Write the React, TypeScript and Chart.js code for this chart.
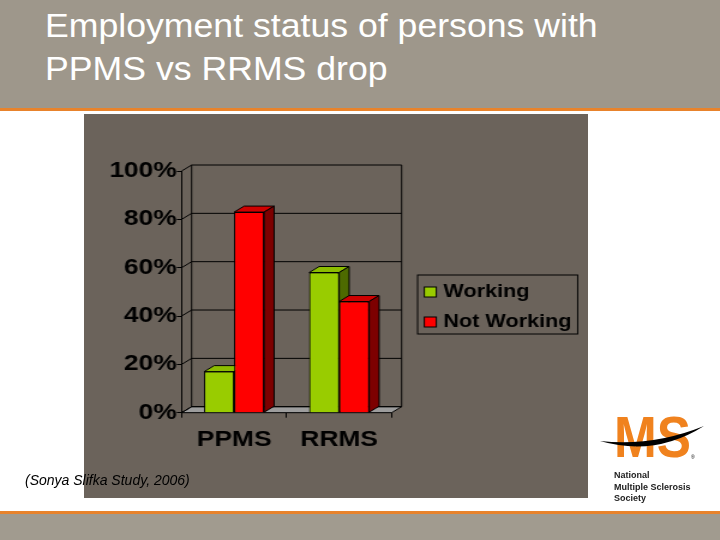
import React, { useEffect, useRef } from "react";
import { Chart, registerables } from "chart.js";

Chart.register(...registerables);

const categories = ["PPMS", "RRMS"];
const seriesLabels = ["Working", "Not Working"];
const working = [17, 58];
const notWorking = [83, 46];
const yTickValues = [0, 20, 40, 60, 80, 100];

const FONT = '"Liberation Sans", Arial, Helvetica, sans-serif';
const DX = 8.33;
const DY = 6;
const faces = [
  { front: "#99cc00", top: "#8cbd00", side: "#4d6a00" },
  { front: "#ff0000", top: "#cf0000", side: "#7d0000" },
];

const threeD = {
  id: "threeD",
  beforeDatasetsDraw(chart: any) {
    const { ctx, chartArea: ca } = chart;
    const y = chart.scales.y;
    const yb = y.getPixelForValue(0);
    const yt = y.getPixelForValue(yTickValues[yTickValues.length - 1]);
    ctx.save();
    ctx.lineWidth = 1;
    ctx.strokeStyle = "#000";
    ctx.beginPath();
    ctx.moveTo(ca.left, yb);
    ctx.lineTo(ca.left + DX, yb - DY);
    ctx.lineTo(ca.right + DX, yb - DY);
    ctx.lineTo(ca.right, yb);
    ctx.closePath();
    ctx.fillStyle = "#9d9d9d";
    ctx.fill();
    ctx.stroke();
    for (const v of yTickValues) {
      const py = y.getPixelForValue(v);
      ctx.beginPath();
      ctx.moveTo(ca.left, py);
      ctx.lineTo(ca.left + DX, py - DY);
      ctx.lineTo(ca.right + DX, py - DY);
      ctx.stroke();
    }
    ctx.beginPath();
    ctx.moveTo(ca.left + DX, yt - DY);
    ctx.lineTo(ca.left + DX, yb - DY);
    ctx.moveTo(ca.right + DX, yt - DY);
    ctx.lineTo(ca.right + DX, yb - DY);
    ctx.stroke();
    ctx.restore();
  },
  afterDatasetsDraw(chart: any) {
    const { ctx } = chart;
    const n = chart.data.labels.length;
    ctx.save();
    ctx.lineWidth = 1;
    ctx.strokeStyle = "#000";
    for (let j = 0; j < n; j++) {
      for (let i = 0; i < chart.data.datasets.length; i++) {
        const bar = chart.getDatasetMeta(i).data[j];
        const { x, y, base, width } = bar.getProps(["x", "y", "base", "width"], true);
        const l = x - width / 2;
        const r = x + width / 2;
        bar.draw(ctx);
        const c = faces[i];
        ctx.beginPath();
        ctx.moveTo(l, y);
        ctx.lineTo(l + DX, y - DY);
        ctx.lineTo(r + DX, y - DY);
        ctx.lineTo(r, y);
        ctx.closePath();
        ctx.fillStyle = c.top;
        ctx.fill();
        ctx.stroke();
        ctx.beginPath();
        ctx.moveTo(r, y);
        ctx.lineTo(r + DX, y - DY);
        ctx.lineTo(r + DX, base - DY);
        ctx.lineTo(r, base);
        ctx.closePath();
        ctx.fillStyle = c.side;
        ctx.fill();
        ctx.stroke();
      }
    }
    ctx.restore();
  },
  afterDraw(chart: any) {
    const { ctx, chartArea: ca } = chart;
    const left = ca.right + DX + 13.3;
    const top = 161;
    const w = 133.4;
    const h = 59;
    ctx.save();
    ctx.lineWidth = 1;
    ctx.strokeStyle = "#000";
    ctx.strokeRect(left, top, w, h);
    ctx.font = `bold 18px ${FONT}`;
    ctx.textBaseline = "middle";
    ctx.textAlign = "left";
    chart.data.datasets.forEach((ds: any, i: number) => {
      const cy = top + 17 + i * 30;
      ctx.fillStyle = ds.backgroundColor;
      ctx.fillRect(left + 5.6, cy - 5, 10, 10);
      ctx.strokeRect(left + 5.6, cy - 5, 10, 10);
      ctx.fillStyle = "#000";
      ctx.fillText(ds.label, left + 21.5, cy);
    });
    ctx.restore();
  },
};

function ChartBox() {
  const ref = useRef<HTMLCanvasElement | null>(null);
  useEffect(() => {
    if (!ref.current) return;
    const chart = new Chart(ref.current, {
      type: "bar",
      data: {
        labels: categories,
        datasets: [
          { label: seriesLabels[0], data: working, backgroundColor: faces[0].front, borderColor: "#000", borderWidth: 1 },
          { label: seriesLabels[1], data: notWorking, backgroundColor: faces[1].front, borderColor: "#000", borderWidth: 1 },
        ],
      },
      options: {
        animation: false,
        responsive: false,
        maintainAspectRatio: false,
        layout: { padding: { top: 57, right: 163.6, bottom: 0, left: 0 } },
        datasets: { bar: { categoryPercentage: 0.571, barPercentage: 1 } },
        plugins: { legend: { display: false }, tooltip: { enabled: false } },
        scales: {
          x: {
            grid: { display: true, drawOnChartArea: false, drawTicks: true, tickLength: 5, color: "#000" },
            border: { display: true, color: "#000" },
            ticks: { color: "#000", font: { family: FONT, size: 22, weight: "bold" }, padding: 9 },
            afterFit: (s: any) => { s.height = 85.3; },
          },
          y: {
            min: 0,
            max: 100,
            grid: { drawOnChartArea: false, drawTicks: true, tickLength: 4, color: "#000" },
            border: { display: true, color: "#000" },
            ticks: {
              stepSize: 20,
              padding: 0,
              color: "#000",
              font: { family: FONT, size: 22, weight: "bold" },
              callback: (v: any) => `${v}%`,
            },
            afterFit: (s: any) => { s.width = 81.4; },
          },
        },
      } as any,
      plugins: [threeD],
    });
    return () => chart.destroy();
  }, []);
  return (
    <canvas
      ref={ref}
      width={420}
      height={384}
      style={{ position: "absolute", left: 84, top: 114, width: "504px", height: "384px", background: "#6b635b" }}
    />
  );
}

export default function App() {
  return (
    <div style={{ position: "absolute", left: 0, top: 0, width: 720, height: 540, background: "#fff", overflow: "hidden", fontFamily: FONT }}>
      <div style={{ position: "absolute", left: 0, top: 0, width: 720, height: 108, background: "#9e978b" }} />
      <div style={{ position: "absolute", left: 0, top: 108, width: 720, height: 3, background: "#e8832c" }} />
      <div style={{ position: "absolute", left: 0, top: 511, width: 720, height: 3, background: "#e8832c" }} />
      <div style={{ position: "absolute", left: 0, top: 514, width: 720, height: 26, background: "#a19b8f" }} />
      <div
        style={{
          position: "absolute",
          left: 45,
          top: 4,
          color: "#fff",
          fontSize: 33,
          lineHeight: "43.3px",
          whiteSpace: "nowrap",
          transform: "scaleX(1.08)",
          transformOrigin: "left top",
        }}
      >
        Employment status of persons with
        <br />
        PPMS vs RRMS drop
      </div>
      <ChartBox />
      <div
        style={{
          position: "absolute",
          left: 25,
          top: 472,
          fontSize: 14,
          lineHeight: "16px",
          fontStyle: "italic",
          color: "#000",
          whiteSpace: "nowrap",
        }}
      >
        (Sonya Slifka Study, 2006)
      </div>
      <div
        style={{
          position: "absolute",
          left: 614,
          top: 408,
          fontSize: 58,
          lineHeight: "58px",
          fontWeight: "bold",
          color: "#f0821e",
          transform: "scaleX(0.885)",
          transformOrigin: "left top",
          whiteSpace: "nowrap",
        }}
      >
        MS
      </div>
      <svg style={{ position: "absolute", left: 0, top: 0 }} width={720} height={540}>
        <path d="M600,441 Q655,457 704,426 Q652,447 600,441 Z" fill="#000" />
      </svg>
      <div style={{ position: "absolute", left: 691, top: 454, fontSize: 5, color: "#000" }}>®</div>
      <div
        style={{
          position: "absolute",
          left: 614,
          top: 470,
          fontSize: 9,
          lineHeight: "11.5px",
          fontWeight: "bold",
          color: "#222",
          whiteSpace: "nowrap",
        }}
      >
        National
        <br />
        Multiple Sclerosis
        <br />
        Society
      </div>
    </div>
  );
}
